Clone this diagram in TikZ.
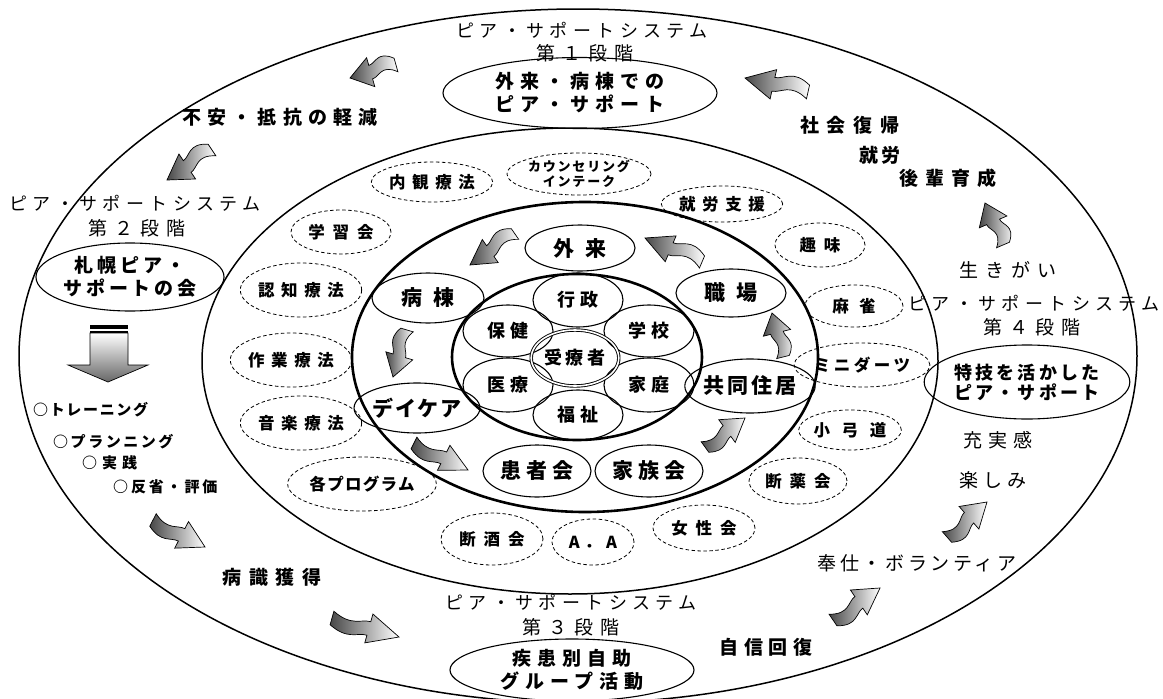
\documentclass[tikz,border=0pt]{standalone}
\usepackage{fontspec}
\setmainfont{Noto Sans CJK JP}
\usetikzlibrary{shapes.geometric,calc}
% kern equal to the letter spacing, so that spaced text stays centred
\newcommand\ks{\setbox0\hbox{国}\kern\dimexpr\wd0-\fontdimen6\font\relax}
\newcommand\fatarrow[5]{%
  \pgfmathsetlengthmacro\FAa{#3+#4}%
  \pgfmathsetlengthmacro\FAb{#3-#4}%
  \path[fatshade] ($(#1)!#4pt!90:(#2)$)
    .. controls ($(#1)!0.3!(#2)!\FAa!90:(#2)$) and ($(#1)!0.4!(#2)!#4pt!90:(#2)$) .. ($(#1)!0.55!(#2)!#4pt!90:(#2)$)
    -- ($(#1)!0.55!(#2)!#5pt!90:(#2)$) -- (#2) -- ($(#1)!0.55!(#2)!#5pt!-90:(#2)$)
    -- ($(#1)!0.55!(#2)!#4pt!-90:(#2)$)
    .. controls ($(#1)!0.4!(#2)!#4pt!-90:(#2)$) and ($(#1)!0.3!(#2)!\FAb!90:(#2)$) .. ($(#1)!#4pt!-90:(#2)$)
    -- cycle;}
\tikzset{
  ring/.style={draw, line width=1.5pt},
  thickring/.style={draw, line width=2.6pt},
  es/.style 2 args={minimum width=#1, minimum height=#2},
  nd/.style={draw, ellipse, line width=1.1pt, inner sep=0pt, align=center},
  dnode/.style={draw, ellipse, dash pattern=on 3.5pt off 2.5pt, line width=0.8pt, inner sep=0pt, align=center},
  fatshade/.style={draw=black, line width=0.7pt, left color=black!72, right color=white},
  spaced/.style={execute at begin node=\ks},
  bigtxt/.style={spaced, font={\fontsize{21}{24}\bfseries\addfontfeature{LetterSpace=#1}}}, bigtxt/.default=24,
  innertxt/.style={spaced, font={\fontsize{18}{20}\bfseries\addfontfeature{LetterSpace=#1}}}, innertxt/.default=28,
  dashtxt/.style={spaced, font={\fontsize{16.5}{19}\bfseries\addfontfeature{LetterSpace=#1}}}, dashtxt/.default=40,
  titletxt/.style={spaced, inner sep=0pt, font={\fontsize{18}{20}\selectfont\addfontfeature{LetterSpace=30}}},
  stagetxt/.style={spaced, inner sep=0pt, font={\fontsize{19}{20}\selectfont\addfontfeature{LetterSpace=36}}},
  eltxt/.style={spaced, font={\fontsize{19}{23}\bfseries\addfontfeature{LetterSpace=#1}}}, eltxt/.default=31,
  freebold/.style={spaced, inner sep=0pt, font={\fontsize{19}{20}\bfseries\addfontfeature{LetterSpace=#1}}}, freebold/.default=33,
  freereg/.style={spaced, inner sep=0pt, font={\fontsize{19}{20}\selectfont\addfontfeature{LetterSpace=#1}}}, freereg/.default=26,
  itemtxt/.style={inner sep=0pt, anchor=west, font={\fontsize{15}{18}\bfseries\addfontfeature{LetterSpace=#1}}}, itemtxt/.default=15,
}
\begin{document}
\begin{tikzpicture}[x=1pt,y=-1pt]
\useasboundingbox[fill=white] (0,0) rectangle (1163,699);

% rings
\draw[ring] (578,356) ellipse [x radius=559, y radius=347];
\draw[ring] (570,361) ellipse [x radius=368, y radius=233];
\draw[thickring] (585,357) ellipse [x radius=233, y radius=155];
\draw[thickring] (577,357) ellipse [x radius=125, y radius=83];

% centre
\node[nd, es={90}{54}, innertxt] (gyosei) at (578,300) {行政};
\node[nd, es={90}{52}, innertxt] (hoken) at (508,331) {保健};
\node[nd, es={90}{52}, innertxt] (gakko) at (649,331) {学校};
\node[nd, es={90}{54}, innertxt] (iryo) at (508,385) {医療};
\node[nd, es={90}{54}, innertxt] (katei) at (649,385) {家庭};
\node[nd, es={90}{50}, innertxt] (fukushi) at (578,415) {福祉};
\node[draw, ellipse, line width=0.9pt, double, double distance=1.6pt, inner sep=0pt, es={60}{56}, spaced,
  font={\fontsize{18}{20}\bfseries\addfontfeature{LetterSpace=22}}] (jyu) at (575,358) {受療者};

% ring nodes
\node[nd, es={110}{46}, bigtxt=50] (gairai) at (580,248) {外来};
\node[nd, es={112}{50}, bigtxt=48] (byoto) at (428,298) {病棟};
\node[nd, es={110}{50}, bigtxt=8] (daycare) at (417,408) {デイケア};
\node[nd, es={108}{52}, bigtxt] (kanja) at (537,471) {患者会};
\node[nd, es={108}{52}, bigtxt] (kazoku) at (649,471) {家族会};
\node[nd, es={94}{54}, bigtxt=13] (kyodo) at (750,386) {共同住居};
\node[nd, es={110}{48}, bigtxt=50] (shokuba) at (731,293) {職場};

% inner arrows
\coordinate (a1t) at (515,234); \coordinate (a1h) at (470,265);
\coordinate (a2t) at (702,262); \coordinate (a2h) at (645,238);
\coordinate (a3t) at (407,330); \coordinate (a3h) at (393,377);
\coordinate (a4t) at (414,443); \coordinate (a4h) at (468,470);
\coordinate (a5t) at (705,447); \coordinate (a5h) at (745,418);
\coordinate (a6t) at (783,357); \coordinate (a6h) at (772,313);
\fatarrow{a1t}{a1h}{-12}{6.5}{14}
\fatarrow{a2t}{a2h}{-12}{6.5}{14}
\fatarrow{a3t}{a3h}{-10}{6.5}{14}
\fatarrow{a4t}{a4h}{-10}{6.5}{14}
\fatarrow{a5t}{a5h}{-10}{6.5}{14}
\fatarrow{a6t}{a6h}{-10}{6.5}{14}

% dashed activities
\node[dnode, es={100}{44}, dashtxt=48] (gakushu) at (341,232) {学習会};
\node[dnode, es={104}{40}, dashtxt] (naikan) at (432,182) {内観療法};
\node[dnode, es={110}{42}, spaced, font={\fontsize{13}{15}\bfseries\addfontfeature{LetterSpace=14}}] (counsel) at (579,174) {カウンセリング\\\ks インテーク};
\node[dnode, es={94}{36}, dashtxt] (shuroshien) at (722,204) {就労支援};
\node[dnode, es={90}{44}, dashtxt=48] (shumi) at (820,245) {趣味};
\node[dnode, es={98}{42}, dashtxt=63] (majan) at (854,306) {麻雀};
\node[dnode, es={110}{44}, dashtxt=21] (darts) at (862,365) {ミニダーツ};
\node[dnode, es={100}{40}, dashtxt=70] (kyudo) at (850,430) {小弓道};
\node[dnode, es={98}{46}, dashtxt=48] (danyaku) at (798,481) {断薬会};
\node[dnode, es={102}{46}, dashtxt=48] (josei) at (704,528) {女性会};
\node[dnode, es={82}{46}, dashtxt=30] (aa) at (593,542) {A．A};
\node[dnode, es={102}{52}, dashtxt=48] (danshu) at (492,539) {断酒会};
\node[dnode, es={100}{54}, dashtxt=8] (program) at (362,484) {各プログラム};
\node[dnode, es={102}{54}, dashtxt] (ongaku) at (301,423) {音楽療法};
\node[dnode, es={102}{54}, dashtxt] (sagyo) at (291,360) {作業療法};
\node[dnode, es={102}{54}, dashtxt] (ninchi) at (301,290) {認知療法};

% stage 1
\node[titletxt] (t1) at (582,30) {ピア・サポートシステム};
\node[stagetxt] (s1) at (585,53) {第１段階};
\node[nd, es={274}{71}, eltxt] (e1) at (580,93) {外来・病棟での\\\ks ピア・サポート};
\node[freebold] (fuan) at (280,117) {不安・抵抗の軽減};

% stage 2
\node[titletxt] (t2) at (135,203) {ピア・サポートシステム};
\node[stagetxt] (s2) at (137,228) {第２段階};
\node[nd, es={184}{68}, eltxt=20] (e2) at (130,277) {札幌ピア・\\\ks サポートの会};
\node[itemtxt=11] (i1) at (33,410) {○トレーニング};
\node[itemtxt=17] (i2) at (53,442) {○プランニング};
\node[itemtxt=33] (i3) at (82,463) {○実践};
\node[itemtxt=19] (i4) at (113,487) {○反省・評価};
\node[freebold=40] (byoshiki) at (272,577) {病識獲得};

% stage 3
\node[titletxt] (t3) at (571,602) {ピア・サポートシステム};
\node[stagetxt] (s3) at (571,627) {第３段階};
\node[nd, es={244}{62}, eltxt=32] (e3) at (572,670) {疾患別自助\\\ks グループ活動};
\node[freebold=30] (jishin) at (766,647) {自信回復};
\node[freereg=19] (hoshi) at (917,563) {奉仕・ボランティア};

% stage 4
\node[freereg=26] (tanoshi) at (993,480) {楽しみ};
\node[freereg=34] (jujitsu) at (998,440) {充実感};
\node[nd, es={180}{74}, spaced, font={\fontsize{18}{20}\bfseries\addfontfeature{LetterSpace=18}}] (e4) at (1027,382) {特技を活かした\\\ks ピア・サポート};
\node[stagetxt] (s4) at (1032,327) {第４段階};
\node[titletxt] (t4) at (1034,303) {ピア・サポートシステム};
\node[freereg=37] (ikigai) at (1008,270) {生きがい};
\node[freebold=37] (kohai) at (948,178) {後輩育成};
\node[freebold=15] (shuro) at (880,155) {就労};
\node[freebold=42] (shakai) at (850,125) {社会復帰};

% outer arrows
\coordinate (b1t) at (396,65); \coordinate (b1h) at (350,78);
\coordinate (b2t) at (212,150); \coordinate (b2h) at (167,180);
\coordinate (b4t) at (153,520); \coordinate (b4h) at (205,547);
\coordinate (b5t) at (332,618); \coordinate (b5h) at (399,637);
\coordinate (b6t) at (833,620); \coordinate (b6h) at (880,588);
\coordinate (b7t) at (947,537); \coordinate (b7h) at (987,502);
\coordinate (b8t) at (1003,245); \coordinate (b8h) at (985,203);
\coordinate (b9t) at (808,92); \coordinate (b9h) at (745,78);
\fatarrow{b1t}{b1h}{-12}{7}{15}
\fatarrow{b2t}{b2h}{-12}{7}{15}
\fatarrow{b4t}{b4h}{-10}{7}{15}
\fatarrow{b5t}{b5h}{-10}{7}{15}
\fatarrow{b6t}{b6h}{-12}{7}{15}
\fatarrow{b7t}{b7h}{-12}{7}{15}
\fatarrow{b8t}{b8h}{-12}{7}{15}
\fatarrow{b9t}{b9h}{-12}{7}{15}

% down arrow under stage 2
\shade[draw=black, line width=0.7pt, top color=white, bottom color=black!60]
  (90,333) -- (128,333) -- (128,365) -- (148,365) -- (108,382) -- (68,365) -- (90,365) -- cycle;
\fill (90,325) rectangle (128,329);
\fill (90,331) rectangle (128,333);
\end{tikzpicture}
\end{document}
